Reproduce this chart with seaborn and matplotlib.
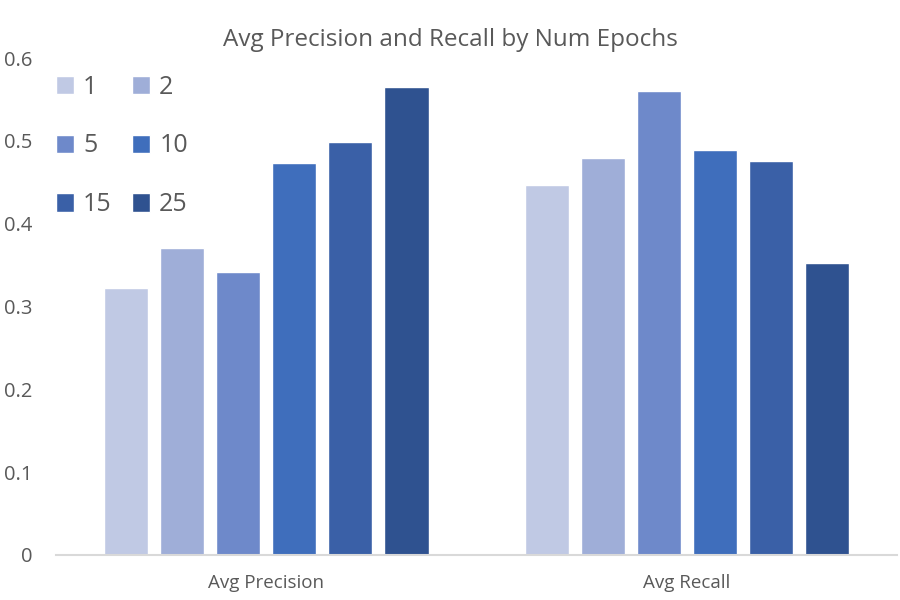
import seaborn as sns
import matplotlib.pyplot as plt
import pandas as pd

metrics = ["Avg Precision", "Avg Recall"]
epochs = ["1", "2", "5", "10", "15", "25"]
precision = [0.323, 0.371, 0.342, 0.473, 0.499, 0.565]
recall = [0.447, 0.479, 0.560, 0.489, 0.476, 0.353]
colors = ["#C0C9E4", "#9FAED8", "#6E89CA", "#3F6EBC", "#3A60A7", "#2F5290"]

df = pd.DataFrame({
    "metric": ["Avg Precision"] * 6 + ["Avg Recall"] * 6,
    "epochs": epochs * 2,
    "value": precision + recall,
})

sns.set_style("white")
plt.rcParams["font.family"] = ["Open Sans", "DejaVu Sans"]
txt = "#595959"

fig = plt.figure(figsize=(9, 6), dpi=100)
ax = fig.add_axes([0.062, 0.075, 0.935, 0.828])
sns.barplot(data=df, x="metric", y="value", hue="epochs", hue_order=epochs,
            order=metrics, palette=colors, width=0.8, gap=0.21,
            saturation=1, ax=ax)

ax.set_ylim(0, 0.6)
ax.set_yticks([0, 0.1, 0.2, 0.3, 0.4, 0.5, 0.6])
ax.set_yticklabels(["0", "0.1", "0.2", "0.3", "0.4", "0.5", "0.6"])
ax.set_xlabel("")
ax.set_ylabel("")
for s in ["top", "right", "left"]:
    ax.spines[s].set_visible(False)
ax.spines["bottom"].set_color("#D9D9D9")
ax.spines["bottom"].set_linewidth(1.5)
ax.tick_params(axis="y", length=0, pad=17, labelsize=14.5, labelcolor=txt)
ax.tick_params(axis="x", length=0, pad=14, labelsize=13.5, labelcolor=txt)

fig.text(0.5, 1 - 40 / 600, "Avg Precision and Recall by Num Epochs",
         fontsize=17.5, color=txt, ha="center", va="center")

# row-major legend: 1 2 / 5 10 / 15 25
handles, labels = ax.get_legend_handles_labels()
idx = [0, 2, 4, 1, 3, 5]
ax.legend([handles[i] for i in idx], [labels[i] for i in idx],
          loc="upper left", bbox_to_anchor=(-0.027, 1.012), ncol=2, frameon=False,
          fontsize=18, labelcolor=txt, handlelength=0.75, handleheight=0.75,
          handletextpad=0.35, columnspacing=0.8, labelspacing=1.35)

fig.savefig("out.png", dpi=100)
